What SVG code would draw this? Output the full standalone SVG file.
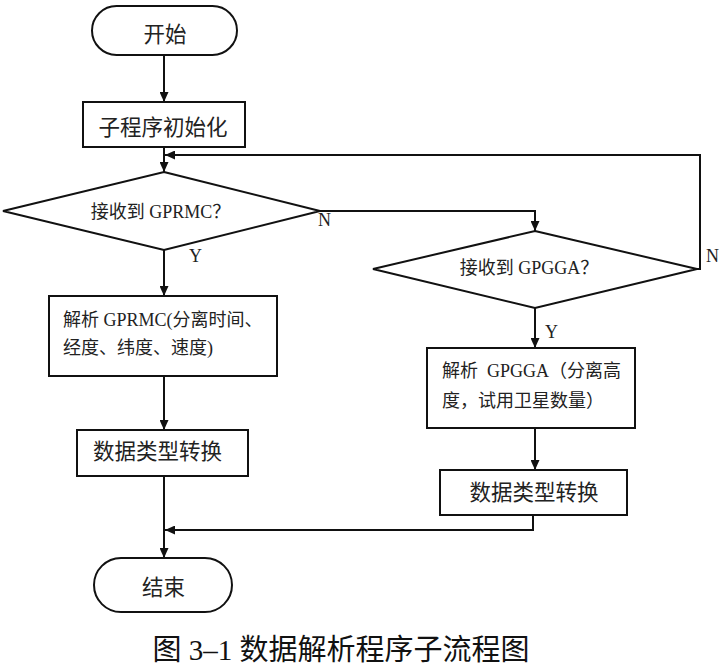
<svg xmlns="http://www.w3.org/2000/svg" width="727" height="669" viewBox="0 0 727 669">
<style>
.shape{fill:#fff;stroke:#111;stroke-width:2}
.conn{fill:none;stroke:#111;stroke-width:2}
text{font-family:"Liberation Serif","Noto Sans CJK SC",serif;fill:#222}
.big{font-size:21.5px;text-anchor:middle}
.mid{font-size:18px}
.lbl{font-size:18px}
.cap{font-size:29px;text-anchor:middle;fill:#111}
</style>
<defs>
<marker id="ah" markerWidth="10" markerHeight="9" refX="10" refY="4.5" orient="auto" markerUnits="userSpaceOnUse">
<path d="M0,0 L10,4.5 L0,9 z" fill="#111"/>
</marker>
</defs>
<rect width="727" height="669" fill="#fff"/>
<g id="connectors">
<path class="conn" d="M164,55 L164,102" marker-end="url(#ah)"/>
<path class="conn" d="M164,147 L164,172" marker-end="url(#ah)"/>
<path class="conn" d="M164,250 L164,296" marker-end="url(#ah)"/>
<path class="conn" d="M164,376 L164,430" marker-end="url(#ah)"/>
<path class="conn" d="M164,476 L164,558" marker-end="url(#ah)"/>
<path class="conn" d="M320,211 L535,211 L535,231" marker-end="url(#ah)"/>
<path class="conn" d="M697,269 L700,269 L700,155 L165,155" marker-end="url(#ah)"/>
<path class="conn" d="M535,308 L535,348" marker-end="url(#ah)"/>
<path class="conn" d="M535,428 L535,470" marker-end="url(#ah)"/>
<path class="conn" d="M533,515 L533,530 L165,530" marker-end="url(#ah)"/>
<text class="lbl" x="318" y="226">N</text>
<text class="lbl" x="189" y="262">Y</text>
<text class="lbl" x="706" y="262">N</text>
<text class="lbl" x="545" y="338">Y</text>
</g>
<g id="start">
<rect class="shape" x="92" y="6" width="145" height="49" rx="24.5"/>
<text class="big" x="165" y="42">开始</text>
</g>
<g id="init">
<rect class="shape" x="83" y="102" width="162" height="45"/>
<text class="big" x="163" y="134.5">子程序初始化</text>
</g>
<g id="dec1">
<polygon class="shape" points="164,172 320,211 164,250 3,211"/>
<text class="mid" x="160.5" y="218" text-anchor="middle">接收到 GPRMC？</text>
</g>
<g id="parse1">
<rect class="shape" x="49" y="296" width="228" height="80"/>
<text class="mid" x="63" y="326">解析 GPRMC(分离时间、</text>
<text class="mid" x="63" y="354">经度、纬度、速度)</text>
</g>
<g id="conv1">
<rect class="shape" x="77" y="430" width="171" height="46"/>
<text class="big" x="157.5" y="459">数据类型转换</text>
</g>
<g id="dec2">
<polygon class="shape" points="535,231 697,269 535,308 373,269"/>
<text class="mid" x="529" y="274" text-anchor="middle">接收到 GPGGA？</text>
</g>
<g id="parse2">
<rect class="shape" x="427" y="348" width="208" height="80"/>
<text class="mid" x="442" y="377" xml:space="preserve">解析  GPGGA（分离高</text>
<text class="mid" x="442" y="407">度，试用卫星数量）</text>
</g>
<g id="conv2">
<rect class="shape" x="440" y="470" width="187" height="45"/>
<text class="big" x="534" y="500">数据类型转换</text>
</g>
<g id="end">
<rect class="shape" x="94" y="558" width="138" height="54" rx="27"/>
<text class="big" x="163.5" y="595">结束</text>
</g>
<text class="cap" x="341" y="659.5">图 3–1 数据解析程序子流程图</text>
</svg>
